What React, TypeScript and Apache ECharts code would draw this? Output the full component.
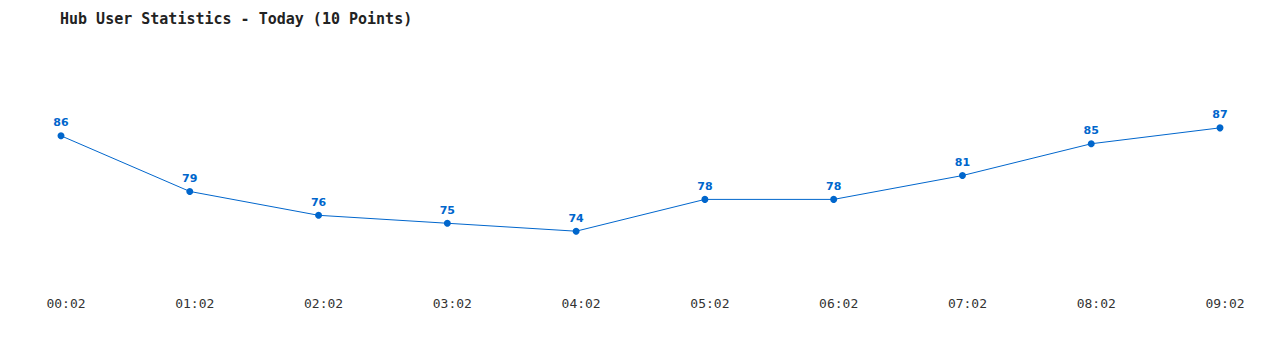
import React, { useEffect, useRef } from "react";
import * as echarts from "echarts";

const categories = ["00:02", "01:02", "02:02", "03:02", "04:02", "05:02", "06:02", "07:02", "08:02", "09:02"];
const users = [86, 79, 76, 75, 74, 78, 78, 81, 85, 87];

export default function App() {
  const ref = useRef<HTMLDivElement>(null);
  useEffect(() => {
    const chart = echarts.init(ref.current!, null, { renderer: "svg" });
    chart.setOption({
      animation: false,
      backgroundColor: "#ffffff",
      title: {
        text: "Hub User Statistics - Today (10 Points)",
        left: 52,
        top: 3,
        padding: 0,
        textStyle: { fontFamily: "DejaVu Sans Mono", fontSize: 15, fontWeight: "bold", color: "#222" },
      },
      grid: { left: 53, right: 52, top: 96, bottom: 79, containLabel: false },
      xAxis: {
        type: "category",
        data: categories,
        boundaryGap: false,
        axisLine: { show: false },
        axisTick: { show: false },
        splitLine: { show: false },
        axisLabel: {
          margin: 34,
          padding: [0, 0, 0, 10],
          fontFamily: "DejaVu Sans Mono",
          fontSize: 13,
          color: "#333",
        },
      },
      yAxis: {
        type: "value",
        min: 70,
        max: 90,
        show: false,
      },
      series: [
        {
          type: "line",
          data: users,
          symbol: "circle",
          symbolSize: 7,
          lineStyle: { color: "#0066cc", width: 1 },
          itemStyle: { color: "#0066cc" },
          label: {
            show: true,
            position: "top",
            distance: 4,
            fontFamily: "DejaVu Sans",
            fontWeight: "bold",
            fontSize: 11,
            color: "#0066cc",
          },
        },
      ],
    });
    return () => chart.dispose();
  }, []);
  return <div ref={ref} style={{ width: 1264, height: 334 }} />;
}
